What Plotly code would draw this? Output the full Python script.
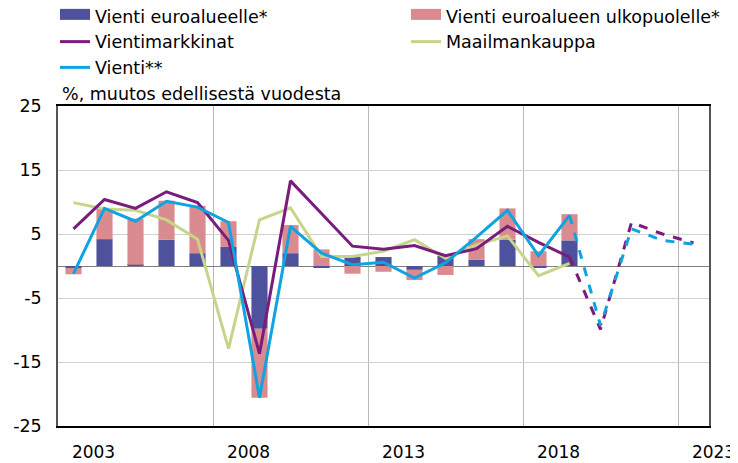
import plotly.graph_objects as go

years = list(range(2003, 2024))
bar_years = list(range(2003, 2020))
fc_years = list(range(2019, 2024))

vienti_euro = [-0.3, 4.2, 0.2, 4.1, 2.0, 3.0, -9.8, 2.0, -0.3, 1.4, 1.4, -0.6, 1.6, 1.0, 4.1, -0.3, 4.0]
vienti_ulko = [-1.0, 4.8, 7.2, 6.1, 7.4, 4.0, -10.8, 4.4, 2.6, -1.2, -0.9, -1.6, -1.4, 3.2, 4.9, 2.3, 4.1]

vientimarkkinat = [5.8, 10.4, 9.0, 11.6, 9.9, 4.0, -13.7, 13.3, 8.2, 3.1, 2.6, 3.2, 1.6, 2.7, 6.2, 3.7, 1.4]
vientimarkkinat_ennuste = [1.4, -9.9, 6.8, 5.0, 3.6]

maailmankauppa = [9.9, 8.9, 8.7, 7.2, 4.2, -12.9, 7.2, 9.1, 1.5, 1.5, 2.3, 4.1, 1.2, 3.3, 4.7, -1.5, 0.4]

vienti = [-1.2, 9.0, 7.0, 10.1, 9.2, 6.8, -20.6, 6.2, 2.0, 0.2, 0.6, -1.9, 0.5, 4.5, 8.7, 1.6, 7.9]
vienti_ennuste = [7.9, -9.3, 5.8, 4.0, 3.4]

tick_years = [2003, 2008, 2013, 2018, 2023]
tick_labels = ["2003", "2008", "2013", "2018", "2023"]
y_ticks = [-25, -15, -5, 5, 15, 25]
y_tick_labels = ["-25", "-15", "-5", "5", "15", "25"]

C_EURO = "#4E519B"
C_ULKO = "#D98B90"
C_MARK = "#7A1C7D"
C_MAAIL = "#C7D58B"
C_VIENTI = "#0FA3E0"
FONT = "DejaVu Sans"
FS = 17.5

fig = go.Figure()

fig.add_trace(go.Bar(x=bar_years, y=vienti_euro, marker_color=C_EURO, marker_line_width=0,
                     showlegend=False, name="Vienti euroalueelle*"))
fig.add_trace(go.Bar(x=bar_years, y=vienti_ulko, marker_color=C_ULKO, marker_line_width=0,
                     showlegend=False, name="Vienti euroalueen ulkopuolelle*"))

# legend proxies for the bar series (wide rectangle symbols)
fig.add_trace(go.Scatter(x=[None], y=[None], mode="lines", fill="toself", fillcolor=C_EURO,
                         line=dict(color=C_EURO, width=10), name="Vienti euroalueelle*",
                         legend="legend", legendrank=1))
fig.add_trace(go.Scatter(x=[None], y=[None], mode="lines", fill="toself", fillcolor=C_ULKO,
                         line=dict(color=C_ULKO, width=10), name="Vienti euroalueen ulkopuolelle*",
                         legend="legend2", legendrank=1))

fig.add_trace(go.Scatter(x=bar_years, y=maailmankauppa, mode="lines",
                         line=dict(color=C_MAAIL, width=3), name="Maailmankauppa",
                         legend="legend2", legendrank=2))
fig.add_trace(go.Scatter(x=bar_years, y=vientimarkkinat, mode="lines",
                         line=dict(color=C_MARK, width=3), name="Vientimarkkinat",
                         legend="legend", legendrank=2))
fig.add_trace(go.Scatter(x=bar_years, y=vienti, mode="lines",
                         line=dict(color=C_VIENTI, width=3), name="Vienti**",
                         legend="legend", legendrank=3))
fig.add_trace(go.Scatter(x=fc_years, y=vientimarkkinat_ennuste, mode="lines", showlegend=False,
                         line=dict(color=C_MARK, width=3, dash="dash"), name="Vientimarkkinat"))
fig.add_trace(go.Scatter(x=fc_years, y=vienti_ennuste, mode="lines", showlegend=False,
                         line=dict(color=C_VIENTI, width=3, dash="dash"), name="Vienti**"))

leg_common = dict(orientation="v", xanchor="left", yanchor="top", xref="paper", yref="paper",
                  font=dict(family=FONT, size=FS, color="black"),
                  bgcolor="rgba(0,0,0,0)", itemclick=False, tracegroupgap=0,
                  traceorder="normal")

# the page body adds an 8 px offset, so the figure is 8 px smaller than the window
fig.update_layout(
    width=730, height=455,
    margin=dict(l=50, r=29, t=98, b=37, autoexpand=False),
    paper_bgcolor="white", plot_bgcolor="white",
    barmode="relative", bargap=0.48,
    font=dict(family=FONT, size=FS, color="black"),
    legend=dict(x=-0.0046, y=1.3375, **leg_common),
    legend2=dict(x=0.5346, y=1.3375, **leg_common),
    annotations=[dict(text="%, muutos edellisestä vuodesta", xref="paper", yref="paper",
                      x=0, y=1, xanchor="left", yanchor="bottom", xshift=2, showarrow=False,
                      font=dict(family=FONT, size=FS, color="black"))],
)

fig.update_xaxes(range=[2002.5, 2023.5], tickvals=tick_years, ticktext=tick_labels,
                 ticklabelshift=20, ticklabelstandoff=10, ticks="",
                 showgrid=False,
                 minor=dict(tickvals=[2007.5, 2012.5, 2017.5, 2022.5], showgrid=True,
                            gridcolor="#b8b8b8", gridwidth=1, ticks=""),
                 showline=True, linecolor="black", linewidth=1.5, mirror=True,
                 zeroline=False, tickfont=dict(family=FONT, size=17, color="black"))
fig.update_yaxes(range=[-25, 25], tickvals=y_ticks, ticktext=y_tick_labels,
                 ticks="", ticklabelstandoff=11,
                 showgrid=True, gridcolor="#d0d0d0", gridwidth=1,
                 zeroline=True, zerolinecolor="#808080", zerolinewidth=1.2,
                 showline=True, linecolor="#555555", linewidth=1.5, mirror=True,
                 tickfont=dict(family=FONT, size=FS, color="black"))

fig.write_html("out.html")
